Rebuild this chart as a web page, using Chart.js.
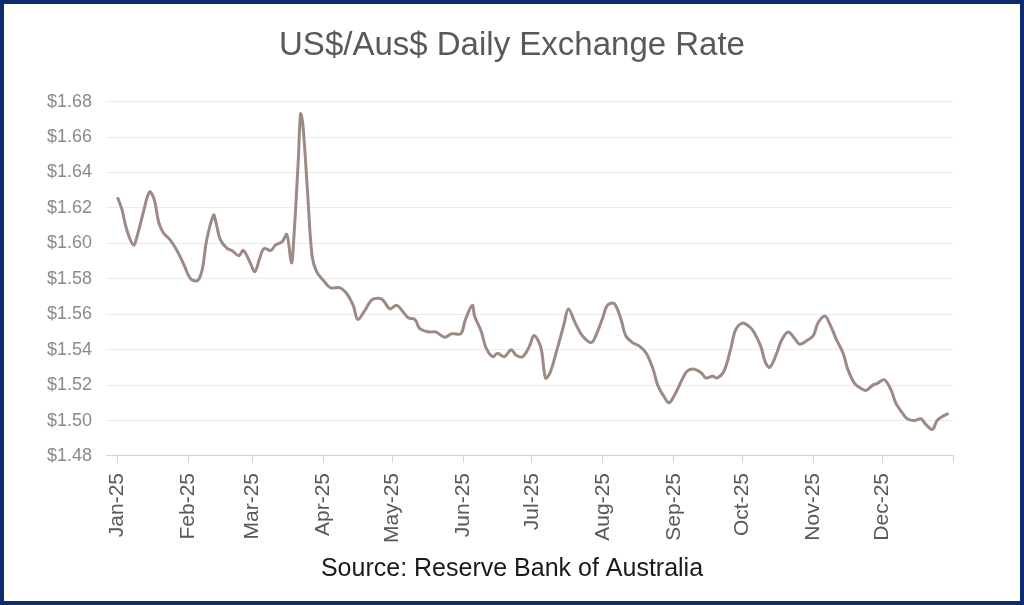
<!DOCTYPE html>
<html>
<head>
<meta charset="utf-8">
<script src="https://cdn.jsdelivr.net/npm/chart.js@4"></script>
<style>
	html, body { margin: 0; padding: 0; background: #fff; }
	#wrap {
		width: 1024px;
		height: 605px;
		box-sizing: border-box;
		border: 4px solid #0c2c6c;
		background: #fff;
		position: relative;
	}
	#wrap canvas { display: block; }
</style>
</head>
<body>
<div id="wrap"><canvas id="chart" width="1016" height="597"></canvas></div>
<script>
// day of year 2025 (0 = 1 Jan) and US$ in Aus$
const days = [0, 2, 4, 7, 9, 11, 14, 16, 18, 20, 23, 26, 29, 32, 35, 37, 39, 42, 43, 45, 48, 50, 53, 55, 58, 60, 62, 64, 67, 69, 72, 74, 76, 77, 79, 80, 81, 83, 85, 87, 90, 93, 97, 100, 103, 105, 108, 111, 114, 116, 119, 122, 125, 127, 130, 132, 136, 139, 143, 146, 150, 152, 155, 156, 159, 161, 164, 166, 169, 172, 174, 177, 180, 182, 185, 187, 189, 192, 195, 197, 200, 203, 207, 209, 212, 214, 217, 220, 222, 225, 228, 231, 234, 236, 239, 241, 244, 247, 249, 252, 255, 257, 260, 262, 265, 268, 270, 273, 276, 278, 281, 283, 285, 288, 290, 293, 296, 298, 301, 304, 306, 309, 311, 314, 317, 319, 322, 325, 327, 330, 332, 335, 338, 340, 343, 345, 348, 351, 353, 356, 358, 360, 363];
const rates = [1.626, 1.619, 1.608, 1.599, 1.606, 1.616, 1.629, 1.625, 1.612, 1.606, 1.602, 1.596, 1.588, 1.580, 1.579, 1.585, 1.602, 1.616, 1.612, 1.602, 1.597, 1.596, 1.593, 1.596, 1.589, 1.584, 1.591, 1.597, 1.596, 1.599, 1.601, 1.605, 1.589, 1.602, 1.647, 1.673, 1.667, 1.630, 1.593, 1.584, 1.579, 1.575, 1.575, 1.572, 1.565, 1.557, 1.562, 1.568, 1.569, 1.568, 1.563, 1.565, 1.561, 1.558, 1.557, 1.552, 1.550, 1.550, 1.547, 1.549, 1.549, 1.557, 1.565, 1.559, 1.550, 1.541, 1.536, 1.538, 1.536, 1.540, 1.537, 1.536, 1.542, 1.548, 1.541, 1.524, 1.527, 1.540, 1.554, 1.563, 1.555, 1.548, 1.544, 1.548, 1.558, 1.565, 1.566, 1.557, 1.548, 1.544, 1.542, 1.538, 1.529, 1.520, 1.513, 1.510, 1.516, 1.524, 1.528, 1.529, 1.527, 1.524, 1.525, 1.524, 1.528, 1.541, 1.551, 1.555, 1.553, 1.550, 1.542, 1.533, 1.530, 1.538, 1.545, 1.550, 1.546, 1.543, 1.545, 1.548, 1.555, 1.559, 1.555, 1.546, 1.538, 1.529, 1.521, 1.518, 1.517, 1.520, 1.521, 1.523, 1.517, 1.510, 1.504, 1.501, 1.500, 1.501, 1.498, 1.495, 1.500, 1.502, 1.504];

const monthStarts = [0, 31, 59, 90, 120, 151, 181, 212, 243, 273, 304, 334, 365];
const monthLabels = ['Jan-25', 'Feb-25', 'Mar-25', 'Apr-25', 'May-25', 'Jun-25', 'Jul-25', 'Aug-25', 'Sep-25', 'Oct-25', 'Nov-25', 'Dec-25', ''];
const yTicks = [1.48, 1.50, 1.52, 1.54, 1.56, 1.58, 1.60, 1.62, 1.64, 1.66, 1.68];

const font = 'Liberation Sans, Arial, sans-serif';
const gray = '#595959';

const data = {
	datasets: [{
		label: 'US$/Aus$',
		data: days.map((d, i) => ({ x: d, y: rates[i] })),
		borderColor: '#9d8a84',
		borderWidth: 3,
		pointRadius: 0,
		tension: 0.35,
		fill: false
	}]
};

const options = {
	responsive: false,
	animation: false,
	layout: { padding: 0 },
	plugins: {
		legend: { display: false },
		tooltip: { enabled: false },
		title: {
			display: true,
			text: 'US$/Aus$ Daily Exchange Rate',
			color: gray,
			font: { family: font, size: 33, weight: 'normal' },
			padding: { top: 22, bottom: 36 }
		},
		subtitle: {
			display: true,
			position: 'bottom',
			text: 'Source: Reserve Bank of Australia',
			color: '#1a1a1a',
			font: { family: font, size: 25, weight: 'normal' },
			padding: { top: 1, bottom: 17 }
		}
	},
	scales: {
		x: {
			type: 'linear',
			min: -5,
			max: 365,
			afterBuildTicks: axis => {
				axis.ticks = monthStarts.map(v => ({ value: v }));
			},
			ticks: {
				autoSkip: false,
				maxRotation: 90,
				minRotation: 90,
				padding: 10,
				color: gray,
				font: { family: font, size: 21 },
				callback: value => monthLabels[monthStarts.indexOf(value)]
			},
			grid: {
				drawOnChartArea: false,
				drawTicks: true,
				tickLength: 7,
				color: '#d4d4d4'
			},
			border: { display: true, color: '#d4d4d4', width: 1 }
		},
		y: {
			type: 'linear',
			min: 1.48,
			max: 1.68,
			afterBuildTicks: axis => {
				axis.ticks = yTicks.map(v => ({ value: v }));
			},
			afterFit: axis => { axis.width = 102; },
			ticks: {
				padding: 14,
				color: '#8a8a8a',
				font: { family: font, size: 18 },
				callback: value => '$' + value.toFixed(2)
			},
			grid: {
				drawTicks: false,
				color: '#ebebeb',
				lineWidth: 1
			},
			border: { display: false }
		},
		// empty axis that keeps the right margin
		yRight: {
			type: 'linear',
			position: 'right',
			afterFit: axis => { axis.width = 67; },
			ticks: { display: false },
			grid: { display: false },
			border: { display: false }
		}
	}
};

const ctx = document.getElementById('chart').getContext('2d');
window.myChart = new Chart(ctx, { type: 'line', data: data, options: options });
</script>
</body>
</html>
